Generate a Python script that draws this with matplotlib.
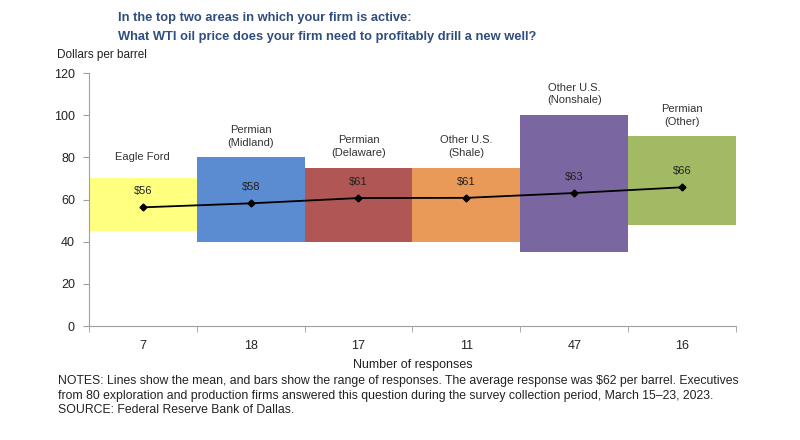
import matplotlib
matplotlib.use("Agg")
import matplotlib.pyplot as plt
from matplotlib import font_manager
from matplotlib.ticker import FixedLocator, NullFormatter

plt.rcParams['font.family'] = ['Liberation Sans', 'DejaVu Sans']
names = sorted({f.name for f in font_manager.fontManager.ttflist})
narrow_ok = 'Liberation Sans Narrow' in names
NARROW = ['Liberation Sans Narrow', 'Liberation Sans', 'DejaVu Sans'] if narrow_ok else ['Liberation Sans', 'DejaVu Sans']

categories = ["Eagle Ford", "Permian\n(Midland)", "Permian\n(Delaware)",
              "Other U.S.\n(Shale)", "Other U.S.\n(Nonshale)", "Permian\n(Other)"]
responses = [7, 18, 17, 11, 47, 16]
range_low = [45, 40, 40, 40, 35, 48]
range_high = [70, 80, 75, 75, 100, 90]
means = [56.3, 58.2, 60.7, 60.8, 63.1, 65.8]
colors = ["#FFFF80", "#5B8BD0", "#B05654", "#E99A58", "#7A66A0", "#A2BA64"]

fig = plt.figure(figsize=(8, 4.4), dpi=100)
ax = fig.add_axes([0.111, 0.259, 0.809, 0.575])

x = list(range(len(categories)))
heights = [h - l for h, l in zip(range_high, range_low)]
ax.bar(x, heights, bottom=range_low, width=1.0, color=colors, edgecolor='none')
ax.plot(x, means, color='black', lw=1.3, marker='D', ms=3.5, zorder=3)

for i in x:
    ax.annotate(f"${means[i]:.0f}", (i, means[i]), xytext=(0, 8), textcoords='offset points',
                ha='center', va='bottom', fontsize=8, color='#222222')
    off = 12 if i == 0 else 7
    ax.annotate(categories[i], (i, range_high[i]), xytext=(0, off), textcoords='offset points',
                ha='center', va='bottom', fontsize=8, color='#333333', linespacing=1.35)

ax.set_xlim(-0.5, len(categories) - 0.5)
ax.set_ylim(0, 120)
ax.set_yticks(range(0, 121, 20))
ax.set_xticks(x)
ax.set_xticklabels([str(r) for r in responses])
ax.xaxis.set_minor_locator(FixedLocator([i - 0.5 for i in range(len(categories) + 1)]))
ax.xaxis.set_minor_formatter(NullFormatter())
ax.tick_params(axis='x', which='major', length=0, pad=10, labelsize=9, colors='#222222')
ax.tick_params(axis='x', which='minor', length=4, direction='out', color='#A0A0A0')
ax.tick_params(axis='y', length=4, direction='out', color='#A0A0A0', labelsize=9,
               labelcolor='#222222', pad=6)
for lab in ax.get_xticklabels() + ax.get_yticklabels():
    lab.set_family(NARROW)
for s in ['top', 'right']:
    ax.spines[s].set_visible(False)
for s in ['left', 'bottom']:
    ax.spines[s].set_color('#A0A0A0')
ax.set_xlabel("Number of responses", fontsize=9, color='#222222', labelpad=5, family=NARROW)

tsize = 11.5 if narrow_ok else 9.3
fig.text(0.148, 0.958, "In the top two areas in which your firm is active:", fontsize=tsize,
         fontweight='bold', color='#2F4D7E', va='center', family=NARROW)
fig.text(0.148, 0.915, "What WTI oil price does your firm need to profitably drill a new well?",
         fontsize=tsize, fontweight='bold', color='#2F4D7E', va='center', family=NARROW)
fig.text(0.071, 0.875, "Dollars per barrel", fontsize=8.5, color='#222222', va='center', family=NARROW)

notes = ("NOTES: Lines show the mean, and bars show the range of responses. The average response was $62 per barrel. Executives\n"
         "from 80 exploration and production firms answered this question during the survey collection period, March 15\u201323, 2023.\n"
         "SOURCE: Federal Reserve Bank of Dallas.")
nsize = 9.6 if narrow_ok else 8.8
fig.text(0.073, 0.148, notes, fontsize=nsize, color='#222222', va='top', linespacing=1.3, family=NARROW)

fig.savefig("out.png", dpi=100)
